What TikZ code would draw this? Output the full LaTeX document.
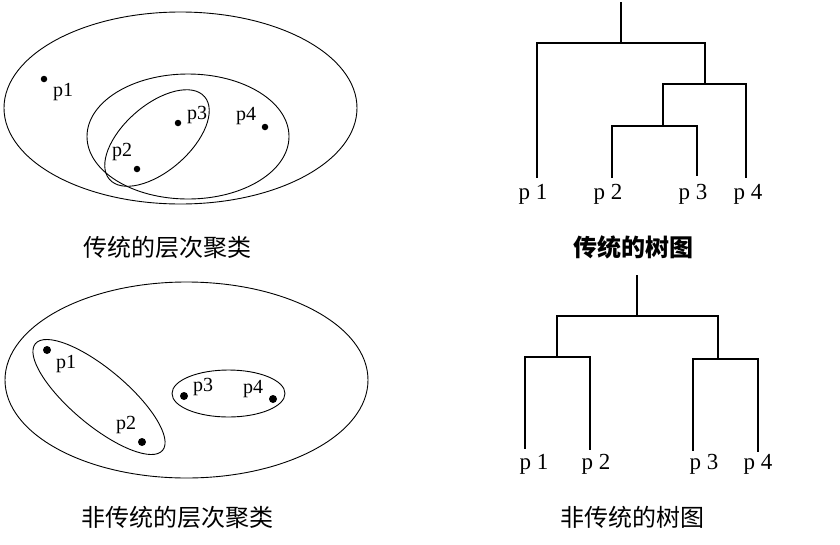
\documentclass[tikz,border=0pt]{standalone}
\usepackage{fontspec}
\setmainfont{Liberation Serif}
\newfontfamily\cjk{Noto Sans CJK SC}
\begin{document}
\begin{tikzpicture}[x=1pt,y=-1pt,
  ring/.style={draw=black,line width=0.9pt},
  pt/.style={circle,fill=black,inner sep=0pt,minimum size=6.5pt},
  bigpt/.style={pt,minimum size=8pt},
  plabel/.style={inner sep=0pt,font=\fontsize{20}{22}\selectfont},
  leaflabel/.style={inner sep=0pt,anchor=north,font=\fontsize{23}{25}\selectfont},
  caption/.style={inner sep=0pt,font=\cjk\fontsize{24}{26}\selectfont},
  branch/.style={draw=black,line width=1.3pt}]
\useasboundingbox[fill=white] (0,0) rectangle (840,544);

% ---------- top left: traditional hierarchical clustering ----------
\draw[ring] (180.5,108) ellipse [x radius=176.5, y radius=96];
\draw[ring] (188,136.5) ellipse [x radius=101, y radius=62.5];
\draw[ring, shift={(157,138)}, rotate=41] (0,0) ellipse [x radius=63, y radius=33];
\node[pt] (a1) at (44,79) {};
\node[pt] (a2) at (137,169) {};
\node[pt] (a3) at (178,123) {};
\node[pt] (a4) at (265,127) {};
\node[plabel] (la1) at (63,92) {p1};
\node[plabel] (la2) at (122,152) {p2};
\node[plabel] (la3) at (197,115) {p3};
\node[plabel] (la4) at (246,116) {p4};
\node[caption] (capA) at (167,247) {传统的层次聚类};

% ---------- top right: traditional dendrogram ----------
\coordinate (tR) at (621,2);
\coordinate (t1234) at (621,43);
\coordinate (t234) at (705,84);
\coordinate (t23) at (663,126);
\coordinate (tl1) at (537,178);
\coordinate (tl2) at (612,178);
\coordinate (tl3) at (697,176);
\coordinate (tl4) at (746,178);
\draw[branch] (tR) -- (t1234);
\draw[branch] (t1234) -| (tl1);
\draw[branch] (t1234) -| (t234);
\draw[branch] (t234) -| (t23);
\draw[branch] (t234) -| (tl4);
\draw[branch] (t23) -| (tl2);
\draw[branch] (t23) -| (tl3);
\node[leaflabel] (tp1) at (533,184) {p 1};
\node[leaflabel] (tp2) at (608,184) {p 2};
\node[leaflabel] (tp3) at (693,184) {p 3};
\node[leaflabel] (tp4) at (748,184) {p 4};
\node[caption,font=\cjk\bfseries\fontsize{24}{26}\selectfont] (capB) at (633,247) {传统的树图};

% ---------- bottom left: non-traditional hierarchical clustering ----------
\draw[ring] (186.5,380) ellipse [x radius=181.5, y radius=98];
\draw[ring, shift={(99,397)}, rotate=-40] (0,0) ellipse [x radius=83, y radius=28];
\draw[ring] (228.5,393.5) ellipse [x radius=56.5, y radius=23.5];
\node[bigpt] (b1) at (47,350) {};
\node[bigpt] (b2) at (142,442) {};
\node[bigpt] (b3) at (184,396) {};
\node[bigpt] (b4) at (273,399) {};
\node[plabel] (lb1) at (66,364) {p1};
\node[plabel] (lb2) at (126,425) {p2};
\node[plabel] (lb3) at (203,387) {p3};
\node[plabel] (lb4) at (253,389) {p4};
\node[caption] (capC) at (177,517) {非传统的层次聚类};

% ---------- bottom right: non-traditional dendrogram ----------
\coordinate (bR) at (637,275);
\coordinate (b1234) at (637,316);
\coordinate (b12) at (557,357);
\coordinate (b34) at (718,359);
\coordinate (bl1) at (525,449);
\coordinate (bl2) at (590,450);
\coordinate (bl3) at (693,451);
\coordinate (bl4) at (758,452);
\draw[branch] (bR) -- (b1234);
\draw[branch] (b1234) -| (b12);
\draw[branch] (b1234) -| (b34);
\draw[branch] (b12) -| (bl1);
\draw[branch] (b12) -| (bl2);
\draw[branch] (b34) -| (bl3);
\draw[branch] (b34) -| (bl4);
\node[leaflabel] (bp1) at (534,454) {p 1};
\node[leaflabel] (bp2) at (596,454) {p 2};
\node[leaflabel] (bp3) at (704,454) {p 3};
\node[leaflabel] (bp4) at (758,454) {p 4};
\node[caption] (capD) at (632,517) {非传统的树图};
\end{tikzpicture}
\end{document}
